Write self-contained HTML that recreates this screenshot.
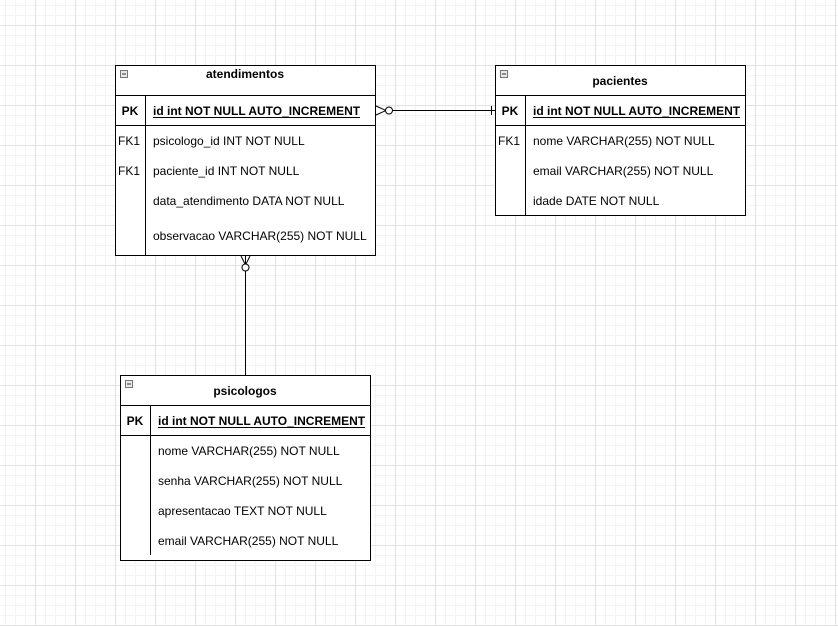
<!DOCTYPE html>
<html><head><meta charset="utf-8"><style>
html,body{margin:0;padding:0;background:#fff}
svg{display:block}
text{font-family:"Liberation Sans",Arial,sans-serif;font-size:12px;fill:#000}
.b{font-weight:bold}
</style></head><body>
<svg width="838" height="626" viewBox="0 0 838 626" xmlns="http://www.w3.org/2000/svg">
<defs>
<pattern id="minor" width="10" height="10" patternUnits="userSpaceOnUse" x="5" y="5">
<path d="M0 0.5H10M0.5 0V10" stroke="#f4f4f4" stroke-width="1" fill="none"/>
</pattern>
<pattern id="major" width="40" height="40" patternUnits="userSpaceOnUse" x="35" y="25">
<path d="M0 0.5H40M0.5 0V40" stroke="#e2e2e2" stroke-width="1" fill="none"/>
</pattern>
</defs>
<rect width="838" height="626" fill="url(#minor)"/>
<rect width="838" height="626" fill="url(#major)"/>

<g fill="none" stroke="#000" stroke-width="1">
<path d="M392 110.5H496M491.5 106V115"/>
<path d="M376 106L386 110.5L376 115"/>
<circle cx="389" cy="110.5" r="3.5" fill="#fff"/>
<path d="M245.5 271V376"/>
<path d="M241 256L245.5 265L250 256M245.5 256V265"/>
<circle cx="245.5" cy="267.5" r="3.5" fill="#fff"/>
</g>

<g stroke="#000" fill="#fff">
<rect x="115.5" y="65.5" width="260" height="190"/>
<path d="M115.5 95.5H375.5M115.5 125.5H375.5M145.5 95.5V255.5" fill="none"/>
<rect x="120.5" y="70.5" width="7" height="7" fill="#e8e8e8" stroke="#777"/>
<path d="M122 74H126" stroke="#333"/>
</g>
<text class="b" x="245" y="78" text-anchor="middle">atendimentos</text>
<text class="b" x="130" y="115" text-anchor="middle">PK</text>
<text class="b" x="153" y="115">id int NOT NULL AUTO_INCREMENT</text>
<path d="M153 117.5H360" stroke="#000"/>
<text x="118" y="145">FK1</text><text x="153" y="145">psicologo_id INT NOT NULL</text>
<text x="118" y="175">FK1</text><text x="153" y="175">paciente_id INT NOT NULL</text>
<text x="153" y="205">data_atendimento DATA NOT NULL</text>
<text x="153" y="240">observacao VARCHAR(255) NOT NULL</text>

<g stroke="#000" fill="#fff">
<rect x="495.5" y="65.5" width="250" height="150"/>
<path d="M495.5 95.5H745.5M495.5 125.5H745.5M525.5 95.5V215.5" fill="none"/>
<rect x="500.5" y="70.5" width="7" height="7" fill="#e8e8e8" stroke="#777"/>
<path d="M502 74H506" stroke="#333"/>
</g>
<text class="b" x="620" y="85" text-anchor="middle">pacientes</text>
<text class="b" x="510" y="115" text-anchor="middle">PK</text>
<text class="b" x="533" y="115">id int NOT NULL AUTO_INCREMENT</text>
<path d="M533 117.5H740" stroke="#000"/>
<text x="498" y="145">FK1</text><text x="533" y="145">nome VARCHAR(255) NOT NULL</text>
<text x="533" y="175">email VARCHAR(255) NOT NULL</text>
<text x="533" y="205">idade DATE NOT NULL</text>

<g stroke="#000" fill="#fff">
<rect x="120.5" y="375.5" width="250" height="185"/>
<path d="M120.5 405.5H370.5M120.5 435.5H370.5M150.5 405.5V555" fill="none"/>
<rect x="125.5" y="380.5" width="7" height="7" fill="#e8e8e8" stroke="#777"/>
<path d="M127 384H131" stroke="#333"/>
</g>
<text class="b" x="245" y="395" text-anchor="middle">psicologos</text>
<text class="b" x="135" y="425" text-anchor="middle">PK</text>
<text class="b" x="158" y="425">id int NOT NULL AUTO_INCREMENT</text>
<path d="M158 427.5H365" stroke="#000"/>
<text x="158" y="455">nome VARCHAR(255) NOT NULL</text>
<text x="158" y="485">senha VARCHAR(255) NOT NULL</text>
<text x="158" y="515">apresentacao TEXT NOT NULL</text>
<text x="158" y="545">email VARCHAR(255) NOT NULL</text>
</svg>
</body></html>
